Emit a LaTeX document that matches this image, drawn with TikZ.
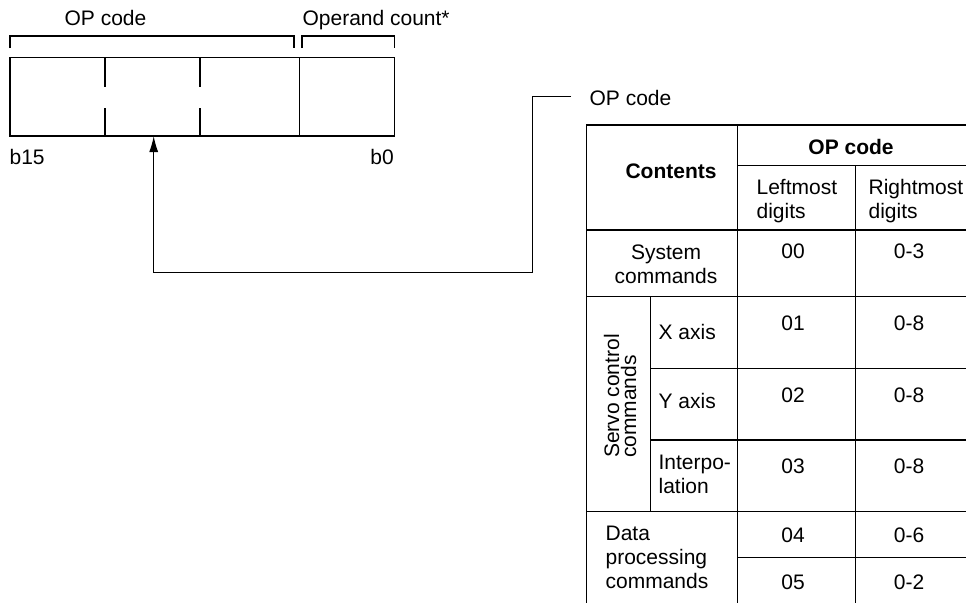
\documentclass[tikz,border=0pt]{standalone}
\usepackage{fontspec}
\setmainfont{Liberation Sans}
\usetikzlibrary{arrows.meta,positioning}

\tikzset{
  every node/.style={inner sep=0pt, font=\fontsize{21}{24}\selectfont},
  lbl/.style={anchor=base west},
  num/.style={anchor=base},
  head/.style={anchor=base, font=\fontsize{21}{24}\selectfont\bfseries},
  stack/.style={anchor=north west, align=left},
}

\begin{document}
\begin{tikzpicture}[x=1pt, y=-1pt, line width=1.2pt]
    \useasboundingbox (0,0) rectangle (966,603);

    % instruction word
    \draw (10,57.3) rectangle (394.3,136);
    \draw (105,57.3) -- (105,87);
    \draw (105,108) -- (105,136);
    \draw (200,57.3) -- (200,87);
    \draw (200,108) -- (200,136);
    \draw (299.3,57.3) -- (299.3,136);
    \draw (10,48) -- (10,36) -- (294,36) -- (294,48);
    \draw (302,48) -- (302,36) -- (394.3,36) -- (394.3,48);
    \node[lbl] (opname) at (64,25) {OP code};
    \node[lbl] (count) at (302,25) {Operand count*};
    \node[lbl] (msb) at (9,164) {b15};
    \node[anchor=base east] (lsb) at (394.3,164) {b0};

    % leader to the table
    \node[lbl] (oplabel) at (589,105) {OP code};
    \coordinate (lead) at (571,96.7);
    \coordinate (bend) at (532.7,272.7);
    \coordinate (opfield) at (153.7,136);
    \draw[-{Latex[length=16pt,width=9pt]}] (lead) -| (bend) -| (opfield);

    % table rules
    \draw (966,125) -- (586.7,125) -- (586.7,603);
    \draw (737.7,125) -- (737.7,603);
    \draw (737.7,165.7) -- (966,165.7);
    \draw (855.3,165.7) -- (855.3,603);
    \draw (586.7,230) -- (966,230);
    \draw (586.7,296.7) -- (966,296.7);
    \draw (650.3,368.7) -- (966,368.7);
    \draw (650.3,440) -- (966,440);
    \draw (586.7,511.3) -- (966,511.3);
    \draw (737.7,557.7) -- (966,557.7);
    \draw (650.3,296.7) -- (650.3,511.3);

    % table text
    \node[head] (contents) at (671,178) {Contents};
    \node[head] (ophead) at (851,154) {OP code};
    \node[stack] (leftdig) at (756,178.8) {Leftmost\\digits};
    \node[stack] (rightdig) at (868,178.8) {Rightmost\\digits};
    \node[anchor=north, align=center] (sys) at (666,244) {System\\commands};
    \node[num] (sysl) at (793,258) {00};
    \node[num] (sysr) at (909,258) {0-3};
    \node[rotate=90, align=left, font=\fontsize{21}{17}\selectfont] (servo) at (620,396) {Servo control\\commands};
    \node[lbl] (xax) at (658,339) {X axis};
    \node[num] (xl) at (793,330) {01};
    \node[num] (xr) at (909,330) {0-8};
    \node[lbl] (yax) at (658,408) {Y axis};
    \node[num] (yl) at (793,402) {02};
    \node[num] (yr) at (909,402) {0-8};
    \node[stack] (interp) at (658,454.8) {Interpo-\\lation};
    \node[num] (il) at (793,473) {03};
    \node[num] (ir) at (909,473) {0-8};
    \node[stack] (data) at (605,525.8) {Data\\processing\\commands};
    \node[num] (dl) at (793,542) {04};
    \node[num] (dr) at (909,542) {0-6};
    \node[num] (el) at (793,589) {05};
    \node[num] (er) at (909,589) {0-2};
\end{tikzpicture}
\end{document}
